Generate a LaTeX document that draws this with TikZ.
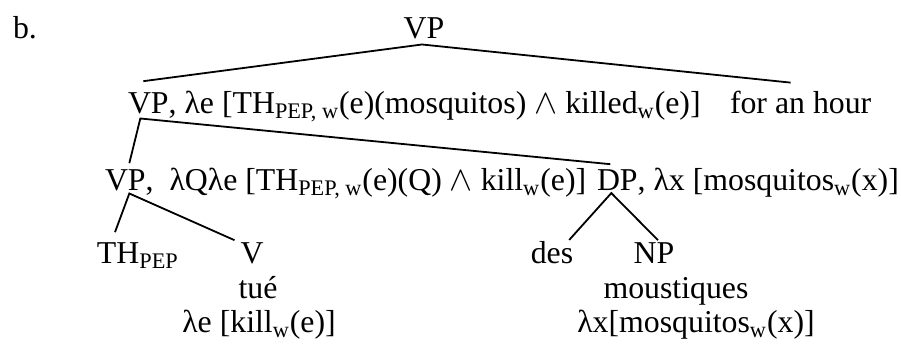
\documentclass[tikz,border=0pt]{standalone}
\usepackage{fontspec}
\setmainfont{Liberation Serif}
\usetikzlibrary{calc,positioning}

\begin{document}
\begin{tikzpicture}[
  x=0.5pt, y=-0.5pt,
  lbl/.style={inner sep=0pt, outer sep=0pt, font=\fontsize{15.9}{19}\selectfont},
  edge/.style={line width=0.9pt}
]
\useasboundingbox (0,0) rectangle (901,345);

\node[lbl, anchor=base west] (ex) at (13,38) {b.};
\node[lbl, anchor=base] (vp1) at (424,38) {VP};

\node[lbl, anchor=base west] (vp2) at (128,113) {VP};
\node[lbl, anchor=base west] (vp2sem) at (vp2.base east) {, λe [TH\textsubscript{PEP, w}(e)(mosquitos) $\wedge$ killed\textsubscript{w}(e)]};
\node[lbl, anchor=base west] (hour) at (730,113) {for an hour};

\node[lbl, anchor=base west] (vp3) at (105,190) {VP};
\node[lbl, anchor=base west] (vp3sem) at (vp3.base east) {,~ λQλe [TH\textsubscript{PEP, w}(e)(Q) $\wedge$ kill\textsubscript{w}(e)]};
\node[lbl, anchor=base west] (dp) at (597,190) {DP};
\node[lbl, anchor=base west] (dpsem) at (dp.base east) {, λx [mosquitos\textsubscript{w}(x)]};

\node[lbl, anchor=base west] (th) at (97,263) {TH\textsubscript{PEP}};
\node[lbl, anchor=base] (v) at (252,263) {V};
\node[lbl, anchor=base] (tue) at (258,298) {tué};
\node[lbl, anchor=base] (kill) at (259,332) {λe [kill\textsubscript{w}(e)]};

\node[lbl, anchor=base] (des) at (552,263) {des};
\node[lbl, anchor=base] (np) at (654,263) {NP};
\node[lbl, anchor=base] (mous) at (676,298) {moustiques};
\node[lbl, anchor=base] (mosq) at (696,332) {λx[mosquitos\textsubscript{w}(x)]};

\draw[edge] ($(vp2.north)+(-5,-11)$) -- ($(vp1.south)+(-2,6)$) -- ($(hour.north)+(-10,-8)$);
\draw[edge] ($(vp3.north)+(4,-6)$) -- ($(vp2.south)+(-8,5)$) -- ($(dp.north)+(-7,-5)$);
\draw[edge] ($(th.north west)+(18,-10)$) -- ($(vp3.south)+(4,3)$) -- ($(v.north west)+(-6,-2)$);
\draw[edge] ($(des.north east)+(-4,-1)$) -- ($(dp.south)+(-6,3)$) -- ($(np.north)+(4,-2)$);
\end{tikzpicture}
\end{document}
